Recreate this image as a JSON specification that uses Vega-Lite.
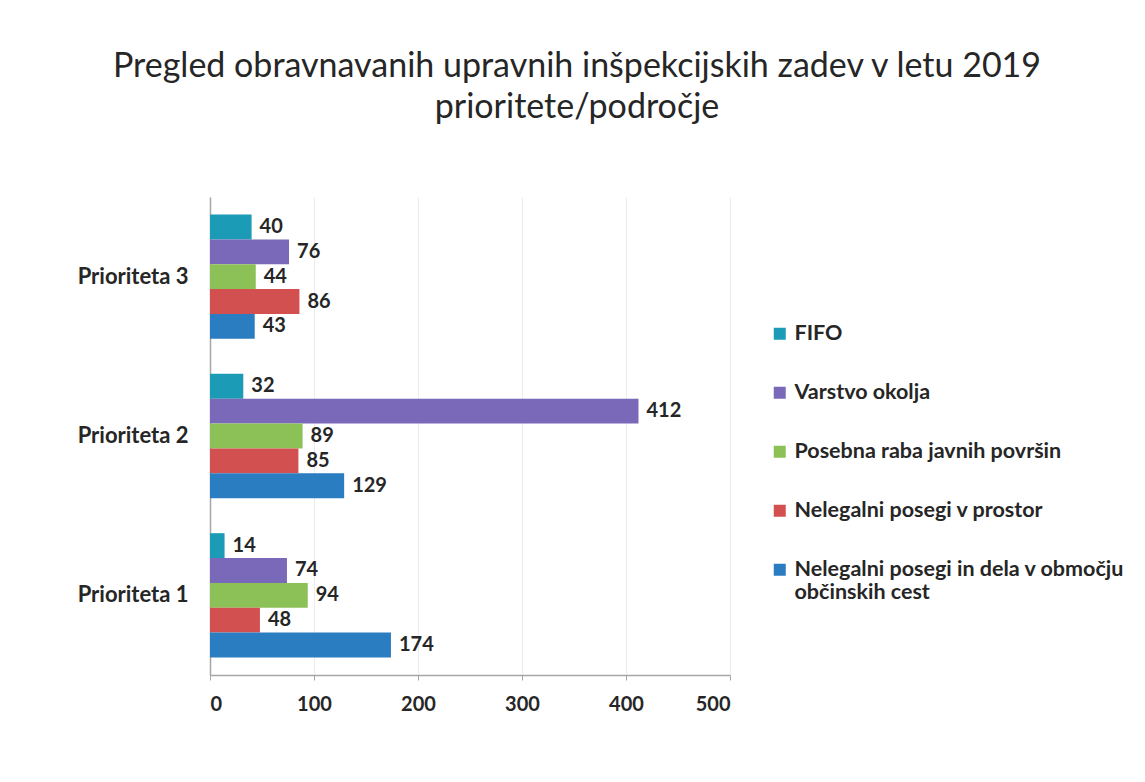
{
  "$schema": "https://vega.github.io/schema/vega-lite/v6.json",
  "autosize": "none",
  "width": 520,
  "height": 478,
  "padding": {"left": 210, "top": 197, "right": 415, "bottom": 107},
  "background": "white",
  "title": {
    "text": ["Pregled obravnavanih upravnih inšpekcijskih zadev v letu 2019", "prioritete/področje"],
    "anchor": "middle",
    "frame": "group",
    "dx": 107,
    "offset": 72,
    "font": "Lato",
    "fontSize": 34,
    "fontWeight": "normal",
    "color": "#262626",
    "lineHeight": 41
  },
  "data": {
    "values": [
      {"prioriteta": "Prioriteta 3", "podrocje": "FIFO", "stevilo": 40},
      {"prioriteta": "Prioriteta 3", "podrocje": "Varstvo okolja", "stevilo": 76},
      {"prioriteta": "Prioriteta 3", "podrocje": "Posebna raba javnih površin", "stevilo": 44},
      {"prioriteta": "Prioriteta 3", "podrocje": "Nelegalni posegi v prostor", "stevilo": 86},
      {"prioriteta": "Prioriteta 3", "podrocje": "Nelegalni posegi in dela v območju občinskih cest", "stevilo": 43},
      {"prioriteta": "Prioriteta 2", "podrocje": "FIFO", "stevilo": 32},
      {"prioriteta": "Prioriteta 2", "podrocje": "Varstvo okolja", "stevilo": 412},
      {"prioriteta": "Prioriteta 2", "podrocje": "Posebna raba javnih površin", "stevilo": 89},
      {"prioriteta": "Prioriteta 2", "podrocje": "Nelegalni posegi v prostor", "stevilo": 85},
      {"prioriteta": "Prioriteta 2", "podrocje": "Nelegalni posegi in dela v območju občinskih cest", "stevilo": 129},
      {"prioriteta": "Prioriteta 1", "podrocje": "FIFO", "stevilo": 14},
      {"prioriteta": "Prioriteta 1", "podrocje": "Varstvo okolja", "stevilo": 74},
      {"prioriteta": "Prioriteta 1", "podrocje": "Posebna raba javnih površin", "stevilo": 94},
      {"prioriteta": "Prioriteta 1", "podrocje": "Nelegalni posegi v prostor", "stevilo": 48},
      {"prioriteta": "Prioriteta 1", "podrocje": "Nelegalni posegi in dela v območju občinskih cest", "stevilo": 174}
    ]
  },
  "encoding": {
    "y": {
      "field": "prioriteta",
      "type": "nominal",
      "scale": {"domain": ["Prioriteta 3", "Prioriteta 2", "Prioriteta 1"], "paddingInner": 0.22, "paddingOuter": 0.11},
      "axis": {
        "title": null,
        "labelFont": "Lato",
        "labelFontSize": 22,
        "labelFontWeight": "bold",
        "labelColor": "#262626",
        "labelPadding": 22,
        "ticks": false,
        "domainColor": "#a6a6a6",
        "domainWidth": 1.5
      }
    },
    "yOffset": {
      "field": "podrocje",
      "type": "nominal",
      "scale": {"domain": ["FIFO", "Varstvo okolja", "Posebna raba javnih površin", "Nelegalni posegi v prostor", "Nelegalni posegi in dela v območju občinskih cest"], "paddingInner": 0, "paddingOuter": 0}
    },
    "x": {
      "field": "stevilo",
      "type": "quantitative",
      "scale": {"domain": [0, 500], "nice": false},
      "axis": {
        "title": null,
        "values": [0, 100, 200, 300, 400, 500],
        "labelFont": "Lato",
        "labelFontSize": 20,
        "labelFontWeight": "bold",
        "labelColor": "#262626",
        "labelPadding": 14,
        "tickSize": 5,
        "tickColor": "#a6a6a6",
        "domainColor": "#a6a6a6",
        "domainWidth": 1.5,
        "gridColor": "#ececec",
        "grid": true
      }
    }
  },
  "layer": [
    {
      "mark": {"type": "bar"},
      "encoding": {
        "color": {
          "field": "podrocje",
          "type": "nominal",
          "scale": {
            "domain": ["FIFO", "Varstvo okolja", "Posebna raba javnih površin", "Nelegalni posegi v prostor", "Nelegalni posegi in dela v območju občinskih cest"],
            "range": ["#1b9bb5", "#7a68b8", "#8cc157", "#d2504f", "#2a7dc0"]
          },
          "legend": {
            "title": null,
            "orient": "none",
            "legendX": 559,
            "legendY": 126,
            "symbolType": "square",
            "symbolSize": 144,
            "symbolStrokeWidth": 0,
            "labelFont": "Lato",
            "labelFontSize": 21.5,
            "labelFontWeight": "bold",
            "labelColor": "#262626",
            "labelLimit": 400,
            "labelOffset": 4,
            "rowPadding": 36,
            "labelExpr": "datum.label == 'Nelegalni posegi in dela v območju občinskih cest' ? ['Nelegalni posegi in dela v območju', 'občinskih cest'] : datum.label"
          }
        }
      }
    },
    {
      "mark": {"type": "text", "align": "left", "baseline": "middle", "dx": 8, "font": "Lato", "fontSize": 20, "fontWeight": "bold", "color": "#262626"},
      "encoding": {
        "text": {"field": "stevilo", "type": "quantitative"}
      }
    }
  ],
  "config": {
    "view": {"stroke": null}
  }
}
